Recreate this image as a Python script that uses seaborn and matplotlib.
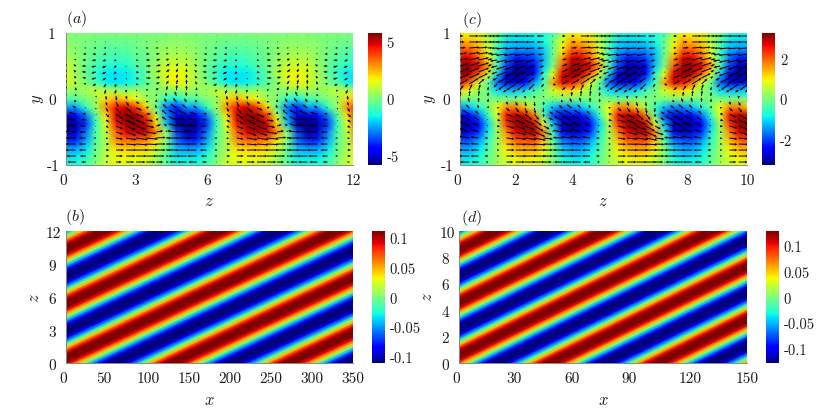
import numpy as np
import matplotlib
matplotlib.use("Agg")
import matplotlib.pyplot as plt
from matplotlib.transforms import Affine2D, ScaledTranslation
import seaborn as sns

W, H = 822, 414

# ---- panel (a): colour field, one spanwise period, rows from y=1 to y=-1
field_a = [
 [0.1,0,0,0,0,0,0,0,0,0,0,0.1],
 [.2,.1,0,-.1,-.2,-.2,-.2,-.1,0,.1,.2,.2],
 [.4,.2,-.1,-.3,-.5,-.5,-.5,-.3,-.1,.2,.4,.5],
 [.7,.3,-.2,-.5,-.8,-.9,-.8,-.5,-.2,.3,.7,.8],
 [1.0,.5,-.3,-.8,-1.2,-1.4,-1.2,-.8,-.3,.5,1.1,1.3],
 [1.3,.6,-.3,-1.1,-1.7,-1.8,-1.7,-1.2,-.4,.6,1.5,1.7],
 [1.3,.7,0,-.7,-1.6,-1.7,-1.6,-1.3,-.5,.3,1.2,1.7],
 [.5,.3,.6,1,.9,.6,.3,.5,.2,.2,.2,.3],
 [-.8,-.5,0,.5,2,2.5,2,1.5,.5,0,-1,-1.5],
 [-2.5,-2.5,-1,.5,3,4.5,5,4,2,-.5,-3,-4],
 [-5,-4.5,-3,-.5,2,5,5.7,5.5,4,1,-2.5,-5],
 [-5.8,-5.5,-3.8,-1,1.5,4.5,5.5,5.8,5,2,-2,-5.5],
 [-5.5,-5,-3,-.7,1,3.5,4.8,5.2,5,3,.3,-3.5],
 [-4,-4,-2.5,-.5,.8,3,3.5,3.5,3.2,2,0,-3],
 [-2.5,-2.5,-1.8,-.3,.8,2,2.2,2.2,2,1.2,-.3,-2.2],
 [-1.7,-1.7,-1.2,-.1,1,1.6,1.7,1.7,1.5,.6,-.5,-1.7],
 [-1.2,-1.2,-.8,.1,1.2,1.4,1.4,1.3,1,.4,-.5,-1.2],
]
# in-plane arrows, lengths in pixels; one row per arrow level
arrow_rows_y = [.955,.864,.773,.682,.591,.5,.409,.318,.227,.136,.045,
                -.045,-.136,-.227,-.318,-.409,-.5,-.591,-.682,-.773,-.864,-.955]
u_a = [
 [.3,-.3,-.3,-.3,-.3,-.3,.3,.3,.3,.3,.3,.3],
 [.5,-.5,-.8,-1,-1,-.5,.5,.8,1,1,.5,.5],
 [.5,-1,-1.5,-2,-2,-1,.3,1.2,2,2,1.5,.8],
 [.2,-1.2,-2.5,-3,-2.5,-1.5,0,1.8,3,3,2,1],
 [0,-1.5,-3,-3.5,-3,-2,0,2,3.5,3.5,2.5,1],
 [0,-2,-3.5,-4,-3.5,-2,0,2.5,4,4,3,1.5],
 [0,-2,-3.5,-4,-3.5,-2,.2,2.5,4,4,2.8,1.2],
 [0,-1.5,-3,-4,-3,-1.5,.5,2.5,4,3.5,2.5,1],
 [0,-1,-2,-3,-2,-1,.5,2,3,3,2,1],
 [0,0,-.5,-1.5,-1.5,-1,0,1,2,2,1,.5],
 [-.5,-.3,0,.5,.3,.5,.7,1.2,1.5,.5,-.5,-1.5],
 [-2,-1.5,0,.5,1,2,2.5,3,2,0,-2,-3],
 [-4,-3,-1,0,2,4,5,5,2.5,-1,-3,-5],
 [-7,-6,-3,.5,3,6,7,6.5,4,0,-4,-7],
 [-8,-7,-4,0,3,6,8,8,6,2,-4,-7],
 [-9,-8,-4.5,-.5,2.5,6,8,8.5,7,4,-2,-7],
 [-10,-9,-5.5,-1,2,6,8.5,9,9,6,0,-8],
 [-10,-9,-6,-2,2,6,9,10,10,8,2,-8],
 [-10,-9,-6,-2,3,7,9,10,10,8,2,-8],
 [-10,-9,-6,-2,3,7,9,10,10,8,2,-8],
 [-9,-8,-5,-2,3,6,8,9,9,7,2,-7],
 [-8,-7,-4,-1,2,5,7,8,8,6,2,-6],
]
v_a = [
 [0]*12,
 [0]*12,
 [.5,0,0,0,0,0,0,0,0,0,0,.5],
 [1,.5,0,-.3,-.5,-.5,-.3,-.2,0,.3,.5,1],
 [1.5,1,0,-.5,-1,-1,-.5,-.5,0,.5,1,1.5],
 [2.5,1.5,0,-1,-1.5,-1.5,-1,-.5,0,1,2,2.5],
 [3,1.8,.2,-1,-1.8,-1.8,-1.2,-.8,0,1,2.3,3],
 [3.5,2,.5,-1,-2,-2,-1.5,-1,0,1,2.5,3.5],
 [4,2.5,.5,-1.5,-3,-3,-2,-1,.5,1.5,3,4],
 [4,2.5,.5,-1.5,-3.5,-3.5,-2.5,-1,.5,2,3.5,4.5],
 [3.5,2.2,.5,-1.5,-3.5,-4,-3,-1,.5,2,3.2,4],
 [3,2,.5,-1.5,-3.5,-4.5,-3.5,-1.5,.7,2.5,3.2,3.5],
 [3,2,.5,-1.5,-3.5,-5,-4,-2,1,3,3.5,3.5],
 [3,1.5,.5,-1,-3,-4.5,-4.5,-3,0,2.5,3.5,3.5],
 [1.5,1,.5,-1,-2,-3.5,-4,-3.5,-1,1.5,3,3],
 [1,.7,.2,-.7,-1.5,-2.7,-3.5,-3.2,-1.2,1.2,2.2,2],
 [.5,.5,0,-.5,-1,-2,-3,-3,-1.5,1,1.5,1],
 [0,0,0,0,-.5,-1,-1.5,-1.5,-1,.5,.5,0],
 [0,0,0,0,0,-.5,-.7,-.7,-.5,0,0,0],
 [0]*12,
 [0]*12,
 [0]*12,
]

# ---- panel (c)
field_c = [
 [1,.9,.8,.3,0,-.6,-.8,-.8,-.8,-.7,-.4,.3],
 [1.5,1.4,1.2,.5,-.3,-1,-1.1,-1.1,-1,-.8,-.2,.8],
 [2,2,1.6,.7,-.5,-1.3,-1.5,-1.5,-1.5,-1.1,-.2,1],
 [2.7,2.7,2,1,-.5,-1.7,-2.3,-2.2,-2,-1.3,-.1,1.5],
 [3.1,3.1,2.7,1.5,-.3,-2,-3,-3,-2.7,-1.2,0,2],
 [3.2,3,2,.8,-1,-2.8,-3.2,-3.1,-2.5,-.8,.8,2.7],
 [2.6,2,.8,-.2,-1.8,-2.8,-2.8,-2.5,-1.5,-.5,1.5,2.8],
 [1.2,.8,.2,-.3,-1,-1.2,-1.2,-1,-.5,-.1,.7,1.2],
 [0,-.1,0,0,0,-.1,-.1,0,0,0,0,0],
 [-1.5,-1.2,-.8,-.1,.9,1.7,1.8,1.3,.3,-.6,-1.2,-1.6],
 [-2.6,-2.5,-1.8,-.6,.8,2.6,3,2.8,1.8,-.2,-2,-2.8],
 [-3.2,-3,-2.5,-1.1,.4,2.3,3.1,3.2,2.8,.8,-1.2,-3],
 [-3,-2.7,-2.2,-.9,.3,1.7,2.7,3,3,1.8,-.6,-2.5],
 [-2,-2,-1.5,-.7,.3,1.4,2,2.2,2.2,1.4,-.3,-1.7],
 [-1.4,-1.4,-1,-.5,.3,1,1.4,1.5,1.5,1,0,-1.1],
 [-1,-1,-.8,-.3,.3,.8,1,1.1,1,.7,0,-.8],
 [-.8,-.8,-.6,-.2,.3,.6,.8,.8,.8,.5,0,-.6],
]
u_c = [
 [3,8,8,4,-5,-9,-9,-9,-8,-6,-1,3],
 [4,8.5,8,4,-5,-9,-9,-9,-8,-6,-1,2],
 [5,9,8,4,-5,-9,-9.5,-9,-8,-5.5,-1,2.5],
 [6,9,8.5,4,-6,-9,-10,-9,-8,-5,-1,3],
 [7,9,9,4,-6,-9,-10,-9,-8,-4,0,4],
 [7.5,9,9,3.5,-5.5,-9,-9.5,-9,-7.5,-3.5,.5,4.5],
 [8,9,9,3,-5,-9,-9,-9,-7,-3,1,5],
 [8,9,8,2,-4,-8,-9,-8,-6,-2,2,6],
 [7,8,5,1,-3,-7,-8,-7,-5,-2,3,6],
 [3,2.5,1.5,.5,-1.5,-3,-3,-2.5,-1.5,-1,1,3],
 [.5,.5,.5,.5,0,0,0,0,0,0,0,.5],
 [-1.5,-1,0,.5,1,1.5,1.5,1,.5,0,-.7,-1],
 [-4,-3,-1,.5,2,3,3,2,1,-.5,-2,-3],
 [-7,-6,-3,0,3,6,7,6,4,0,-3,-6],
 [-8,-7.5,-4.5,-.7,3,7,8,8,6.5,2.5,-3.5,-7],
 [-8.5,-8,-5.5,-1.5,2.5,7,8.5,8.5,8,5,-2.5,-7.5],
 [-9,-8.5,-6.5,-2.5,2,7,9,9.5,9.5,7.5,-.5,-8],
 [-9,-9,-7,-3,2,7,9,10,10,8,0,-8],
 [-9,-9,-7,-3,2,7,9,10,10,8,1,-8],
 [-9,-9,-7,-3,2,7,9,10,10,8,1,-8],
 [-9,-9,-7,-3,2,7,9,10,10,8,1,-8],
 [-8,-8,-6,-2,1,6,8,9,9,7,1,-7],
]
v_c = [
 [0]*12,
 [0]*12,
 [.3,.6,.6,.3,-.3,-.6,-.6,-.6,-.6,-.3,0,.3],
 [1,1.3,1.3,.8,-.7,-1.3,-1.3,-1.3,-1.3,-.7,0,.7],
 [1.5,2,2,1,-1,-2,-2,-2,-2,-1,0,1],
 [2.3,3,2.8,1.3,-1.3,-2.8,-3,-3,-2.8,-1.3,0,1.8],
 [3,3.7,3.5,1.5,-1.8,-3.5,-4,-4,-3.5,-1.7,-.3,2.3],
 [3.5,4,4,1.5,-2,-4,-4.5,-4.5,-4,-2,-.5,2.5],
 [4,5,4.5,1,-3,-5,-5.5,-5.5,-5,-3,-1,3],
 [4,5,5,3,-1,-2,-2,-2,-1.5,-1,-.5,2.5],
 [4,5,5,3.5,.5,-1.5,-2.5,-2.5,-2.3,-1.5,-.7,2],
 [3.5,4,4,3,.8,-2.5,-3.5,-4,-4,-3,0,2],
 [3,3,3,2,.5,-3,-4,-5,-5,-4,1,2.5],
 [3.5,3.5,3,1,0,-3,-4.5,-5,-5,-3,2,3],
 [3.5,4,3,1,-.5,-2,-3.5,-4,-5,-3,2,3],
 [2.7,3.5,2.8,.8,-.5,-1.8,-3,-3.5,-4.5,-2.7,1.5,2.2],
 [2,3,2.5,.5,-.5,-1.5,-2.5,-3,-4,-2.5,1,1.5],
 [1,1.5,1,0,-.5,-1,-1,-1.5,-2,-1,.5,.5],
 [.3,.5,.3,0,0,-.3,-.3,-.5,-.7,-.3,0,0],
 [0]*12,
 [0]*12,
 [0]*12,
]

# ---- panels (b), (d): one period of the stripe profile, read across a band
profile_b = [.125,.115,.088,.048,0,-.048,-.088,-.115,-.125,-.115,-.088,-.048,0,.048,.088,.115]
profile_d = [.145,.134,.103,.055,0,-.055,-.103,-.134,-.145,-.134,-.103,-.055,0,.055,.103,.134]

z_ticks_a = [0, 3, 6, 9, 12]
z_ticks_c = [0, 2, 4, 6, 8, 10]
y_ticks = [-1, 0, 1]
x_ticks_b = [0, 50, 100, 150, 200, 250, 300, 350]
x_ticks_d = [0, 30, 60, 90, 120, 150]
cb_ticks_a = [-5, 0, 5]
cb_ticks_c = [-2, 0, 2]
cb_ticks_b = [-.1, -.05, 0, .05, .1]
cb_labels_s = ["-0.1", "-0.05", "0", "0.05", "0.1"]

sns.set_theme(style="ticks")
plt.rcParams["mathtext.fontset"] = "cm"
plt.rcParams["font.family"] = ["cmr10", "DejaVu Sans"]
plt.rcParams["axes.unicode_minus"] = False
TXT = "#1c1c1c"
FS = 11

fig = plt.figure(figsize=(W / 100, H / 100), dpi=100)
cmap = "jet"


def px_axes(l, t, r, b):
    return fig.add_axes([l / W, 1 - b / H, (r - l) / W, (b - t) / H])


def finish(ax, cax, xlim, ylim, xt, yt, xl, yl, cbt, cbl):
    ax.set_xlim(*xlim)
    ax.set_ylim(*ylim)
    ax.set_xticks(xt, [str(t) for t in xt], fontsize=FS, color=TXT)
    ax.set_yticks(yt, [str(t) for t in yt], fontsize=FS, color=TXT)
    ax.tick_params(axis="x", length=0, pad=6)
    ax.tick_params(axis="y", length=0, pad=10)
    for s in ("left", "bottom"):
        ax.spines[s].set_visible(True)
        ax.spines[s].set_color("#888888")
        ax.spines[s].set_linewidth(0.7)
    for lab, t in zip(ax.get_xticklabels(), xt):
        if t in (0, 2, 3, 4, 6, 8, 9, 30, 50, 60, 90):
            lab.set_transform(lab.get_transform() + ScaledTranslation(-2.8 / 100, 0, fig.dpi_scale_trans))
    for lab, t in zip(ax.get_yticklabels(), yt):
        lab.set_ha("center")
        if t in (-1, 10, 12):
            lab.set_transform(lab.get_transform() + ScaledTranslation(1.5 / 100, 0, fig.dpi_scale_trans))
    cax.set_yticks(cbt, cbl, fontsize=10.5, color=TXT)
    cax.tick_params(length=0, pad=3.5)
    ax.set_xlabel(xl, fontsize=FS + 1, color=TXT)
    ax.set_ylabel(yl, fontsize=FS + 1, color=TXT, rotation=90)


def draw_field(ax, cax, table, dz, vmax, u, v):
    tile = np.tile(np.array(table, float), (1, 4))
    tr = Affine2D.from_values(dz, 0, 0, -0.125, 0, 1) + ax.transData
    sns.heatmap(tile, ax=ax, cbar_ax=cax, cmap=cmap, vmin=-vmax, vmax=vmax, shading="gouraud",
                transform=tr, xticklabels=False, yticklabels=False, linecolor="none")
    uu = np.tile(np.array(u, float), (1, 4))
    vv = np.tile(np.array(v, float), (1, 4))
    Z, Y = np.meshgrid(np.arange(uu.shape[1]) * dz, arrow_rows_y)
    ax.quiver(Z, Y, uu, vv, angles="uv", scale_units="dots", scale=0.85, units="dots", width=1.0,
              headwidth=2.6, headlength=3.0, headaxislength=2.6, minshaft=1, minlength=0.5,
              color="black", zorder=3)


def draw_stripes(ax, cax, profile, period, slope, z0, xmax, vmax, nper):
    table = np.column_stack([np.tile(profile, nper)] * 2)
    dp = period / len(profile)
    tr = Affine2D.from_values(xmax, slope * xmax, 0, dp, 0, z0 - (nper - 4) * period) + ax.transData
    sns.heatmap(table, ax=ax, cbar_ax=cax, cmap=cmap, vmin=-vmax, vmax=vmax, shading="gouraud",
                transform=tr, xticklabels=False, yticklabels=False, linecolor="none")


ax_a = px_axes(65.7, 34, 353.3, 166)
cax_a = px_axes(368, 34, 381.7, 166)
draw_field(ax_a, cax_a, field_a, 0.42, 5.8, u_a, v_a)
finish(ax_a, cax_a, (0, 12), (-1, 1), z_ticks_a, y_ticks, "$z$", "$y$", cb_ticks_a, ["-5", "0", "5"])

ax_c = px_axes(460, 34, 747.3, 166)
cax_c = px_axes(762, 34, 775, 166)
draw_field(ax_c, cax_c, field_c, 0.3233, 3.27, u_c, v_c)
finish(ax_c, cax_c, (0, 10), (-1, 1), z_ticks_c, y_ticks, "$z$", "$y$", cb_ticks_c, ["-2", "0", "2"])

ax_b = px_axes(65.7, 232.3, 353.3, 364.3)
cax_b = px_axes(372, 232.3, 385, 364.3)
draw_stripes(ax_b, cax_b, profile_b, 4.97, 0.0351, 0.46, 350, 0.111, 8)
finish(ax_b, cax_b, (0, 350), (0, 12), x_ticks_b, z_ticks_a, "$x$", "$z$", cb_ticks_b, cb_labels_s)

ax_d = px_axes(459.3, 232.3, 747.3, 364.3)
cax_d = px_axes(765.7, 232.3, 779, 364.3)
draw_stripes(ax_d, cax_d, profile_d, 3.99, 0.0713, 0.66, 150, 0.128, 8)
finish(ax_d, cax_d, (0, 150), (0, 10), x_ticks_d, z_ticks_c, "$x$", "$z$", cb_ticks_b, cb_labels_s)

# axis labels and panel letters at their measured places
for ax, xl, yl in [(ax_a, (209.3, 201.7), (38, 99)), (ax_c, (603, 201.7), (430, 99)),
                   (ax_b, (209, 400), (34, 297.7)), (ax_d, (603, 400), (427, 297))]:
    ax.xaxis.set_label_coords(xl[0] / W, 1 - xl[1] / H, transform=fig.transFigure)
    ax.yaxis.set_label_coords(yl[0] / W, 1 - yl[1] / H, transform=fig.transFigure)
    ax.xaxis.label.set_va("center")
    ax.yaxis.label.set_va("center")

for s, (x, y) in {"a": (76.3, 19.3), "c": (472, 20), "b": (74.7, 217.3), "d": (471.7, 217.7)}.items():
    fig.text(x / W, 1 - y / H, f"$({s})$", fontsize=FS + 0.5, color=TXT, ha="center", va="center")

fig.savefig("out.png", dpi=100)
